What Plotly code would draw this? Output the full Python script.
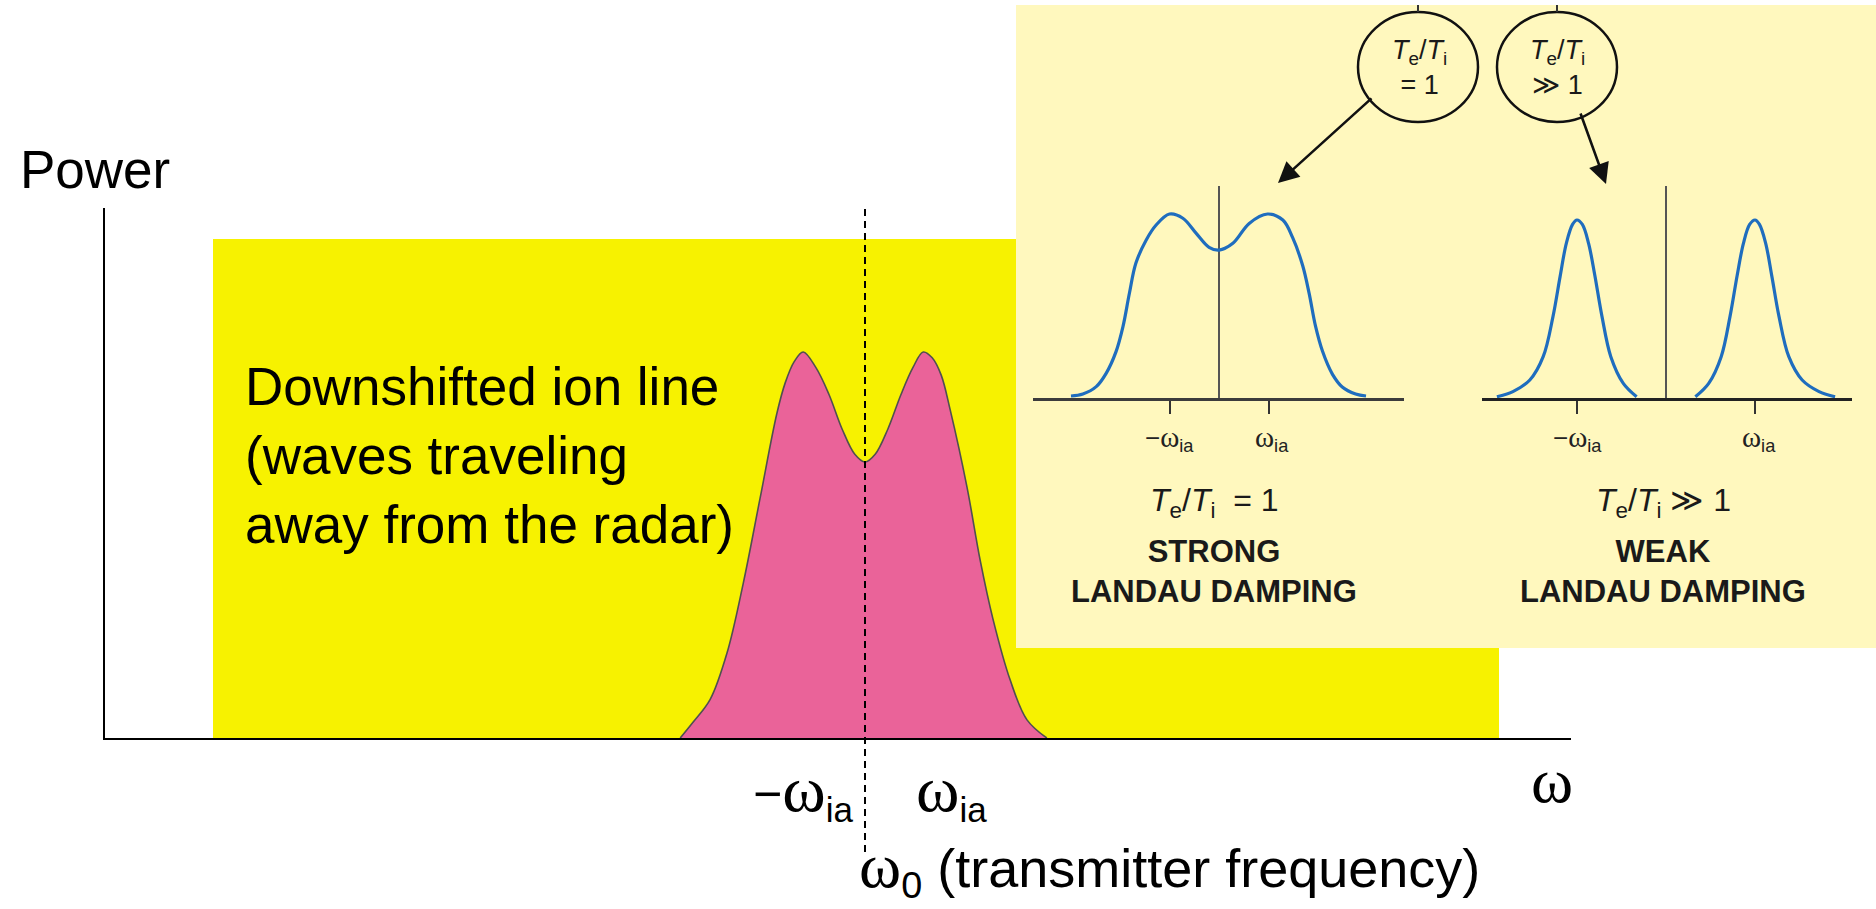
import plotly.graph_objects as go

W, H = 1876, 909

# ---------------- data (ω in units of ω_ia, power normalised to peak) -------------
MAIN_OMEGA = [-3.08, -2.87, -2.58, -2.30, -2.03, -1.75, -1.47, -1.33, -1.18, -1.03,
              -0.82, -0.60, -0.38, -0.17, 0.0, 0.17, 0.38, 0.60, 0.80, 0.97,
              1.12, 1.27, 1.42, 1.70, 1.92, 2.13, 2.42, 2.70, 3.03]
MAIN_POWER = [0.0, 0.04, 0.10, 0.22, 0.40, 0.62, 0.84, 0.92, 0.975, 1.0,
              0.96, 0.89, 0.80, 0.735, 0.715, 0.735, 0.80, 0.89, 0.96, 1.0,
              0.985, 0.94, 0.85, 0.65, 0.46, 0.31, 0.15, 0.047, 0.0]

STRONG_OMEGA = [-2.99, -2.75, -2.48, -2.28, -2.08, -1.94, -1.81, -1.68, -1.47, -1.27,
                -1.00, -0.73, -0.46, -0.20, 0.0, 0.28, 0.61, 0.98, 1.29, 1.49, 1.69,
                1.82, 1.95, 2.09, 2.29, 2.49, 2.76, 2.97]
STRONG_POWER = [0.011, 0.022, 0.062, 0.134, 0.252, 0.388, 0.569, 0.732, 0.859, 0.940,
                1.0, 0.977, 0.895, 0.819, 0.804, 0.841, 0.949, 1.0, 0.967, 0.87, 0.72,
                0.57, 0.39, 0.255, 0.13, 0.06, 0.022, 0.011]

WEAK_LEFT_OMEGA = [-1.90, -1.72, -1.53, -1.38, -1.27, -1.19, -1.12, -1.05, -1.00,
                   -0.94, -0.87, -0.80, -0.72, -0.62, -0.48, -0.33]
WEAK_LEFT_POWER = [0.007, 0.036, 0.101, 0.232, 0.457, 0.682, 0.869, 0.975, 1.0,
                   0.975, 0.869, 0.69, 0.46, 0.232, 0.082, 0.007]
WEAK_RIGHT_OMEGA = [0.33, 0.48, 0.62, 0.72, 0.80, 0.87, 0.94, 1.00, 1.05, 1.12, 1.19,
                    1.27, 1.38, 1.53, 1.72, 1.90]
WEAK_RIGHT_POWER = [0.007, 0.082, 0.232, 0.46, 0.69, 0.869, 0.975, 1.0, 0.975,
                    0.869, 0.682, 0.457, 0.232, 0.101, 0.036, 0.007]

TICK_VALS = [-1, 1]

# ---------------- styling helpers ----------------
SANS = "Liberation Sans, Arial, sans-serif"
SERIF = "Liberation Serif"
YELLOW = "#F7F200"
PALE = "#FFF8BE"
PINK = "#EA6399"
BLUE = "#1F6DBE"


def px(x):
    return x / W


def py(y):
    return 1 - y / H


fig = go.Figure()

fig.add_trace(go.Scatter(x=MAIN_OMEGA, y=MAIN_POWER, mode="lines", line_shape="spline",
                         fill="tozeroy", fillcolor=PINK,
                         line=dict(color="#505050", width=1.6),
                         xaxis="x", yaxis="y", hoverinfo="skip", showlegend=False))
fig.add_trace(go.Scatter(x=STRONG_OMEGA, y=STRONG_POWER, mode="lines", line_shape="spline",
                         line=dict(color=BLUE, width=3.2), xaxis="x2", yaxis="y2",
                         hoverinfo="skip", showlegend=False))
fig.add_trace(go.Scatter(x=WEAK_LEFT_OMEGA, y=WEAK_LEFT_POWER, mode="lines", line_shape="spline",
                         line=dict(color=BLUE, width=3.2), xaxis="x3", yaxis="y3",
                         hoverinfo="skip", showlegend=False))
fig.add_trace(go.Scatter(x=WEAK_RIGHT_OMEGA, y=WEAK_RIGHT_POWER, mode="lines", line_shape="spline",
                         line=dict(color=BLUE, width=3.2), xaxis="x3", yaxis="y3",
                         hoverinfo="skip", showlegend=False))

# ---------------- axes ----------------
main_center, main_unit = 865, 60
main_base, main_peak = 738, 352
fig.update_layout(
    xaxis=dict(domain=[px(105), px(1571)],
               range=[(105 - main_center) / main_unit, (1571 - main_center) / main_unit],
               showline=True, linecolor="black", linewidth=2, showgrid=False,
               zeroline=False, showticklabels=False, ticks=""),
    yaxis=dict(domain=[py(738), py(208)],
               range=[0, (main_base - 208) / (main_base - main_peak)],
               showline=True, linecolor="black", linewidth=2, showgrid=False,
               zeroline=False, showticklabels=False, ticks=""),
    xaxis2=dict(domain=[px(1033), px(1404)], anchor="y2",
                range=[(1033 - 1219) / 49.5, (1404 - 1219) / 49.5],
                showline=True, linecolor="#3c3c3c", linewidth=2.5, showgrid=False,
                zeroline=True, zerolinecolor="#555555", zerolinewidth=1.5,
                tickvals=TICK_VALS, ticks="outside", ticklen=13, tickwidth=2,
                tickcolor="#333333", showticklabels=False),
    yaxis2=dict(domain=[py(398), py(186)], anchor="x2",
                range=[0, (398 - 186) / (398 - 214)], visible=False),
    xaxis3=dict(domain=[px(1482), px(1852)], anchor="y3",
                range=[(1482 - 1666) / 89, (1852 - 1666) / 89],
                showline=True, linecolor="#222222", linewidth=2.5, showgrid=False,
                zeroline=True, zerolinecolor="#555555", zerolinewidth=1.5,
                tickvals=TICK_VALS, ticks="outside", ticklen=13, tickwidth=2,
                tickcolor="#333333", showticklabels=False),
    yaxis3=dict(domain=[py(398), py(186)], anchor="x3",
                range=[0, (398 - 186) / (398 - 220)], visible=False),
)

# ---------------- shapes ----------------
shapes = [
    dict(type="rect", xref="paper", yref="paper", x0=px(213), x1=px(1499),
         y0=py(738), y1=py(239), fillcolor=YELLOW, line=dict(width=0), layer="below"),
    dict(type="rect", xref="paper", yref="paper", x0=px(1016), x1=px(1876),
         y0=py(648), y1=py(5), fillcolor=PALE, line=dict(width=0), layer="below"),
    dict(type="line", xref="x", yref="paper", x0=0, x1=0, y0=py(852), y1=py(207),
         line=dict(color="black", width=2, dash="7px,5px"), layer="above"),
    dict(type="circle", xref="paper", yref="paper", x0=px(1358), x1=px(1478),
         y0=py(122), y1=py(12), line=dict(color="#111111", width=2.5)),
    dict(type="circle", xref="paper", yref="paper", x0=px(1497), x1=px(1617),
         y0=py(122), y1=py(12), line=dict(color="#111111", width=2.5)),
    dict(type="line", xref="paper", yref="paper", x0=px(1418), x1=px(1418),
         y0=py(12), y1=py(5), line=dict(color="#333333", width=2)),
    dict(type="line", xref="paper", yref="paper", x0=px(1557), x1=px(1557),
         y0=py(12), y1=py(5), line=dict(color="#333333", width=2)),
]


def om(size):
    return f"<span style='font-family:Liberation Serif;font-size:{size}px'>ω</span>"


def ann(text, x, y, size, xanchor="center", yanchor="middle", family=SANS,
        color="black", align="center"):
    return dict(text=text, x=px(x), y=py(y), xref="paper", yref="paper",
                xanchor=xanchor, yanchor=yanchor, showarrow=False, align=align,
                font=dict(size=size, family=family, color=color))


annotations = [
    ann("Power", 18, 170, 53, xanchor="left"),
    ann("Downshifted ion line<br>(waves traveling<br>away from the radar)", 243, 455, 53,
        xanchor="left", align="left"),
    ann("−" + om(66) + "<sub>ia</sub>", 803, 790, 50),
    ann(om(66) + "<sub>ia</sub>", 951, 790, 50),
    ann("ω", 1552, 780, 64, family=SERIF),
    ann(om(64) + "<sub>0</sub> (transmitter frequency)", 857, 868, 54, xanchor="left"),
    # bubble texts
    ann("<i>T</i><sub>e</sub>/<i>T</i><sub>i</sub><br>= 1", 1419, 68, 27, color="#1a1a1a"),
    ann("<i>T</i><sub>e</sub>/<i>T</i><sub>i</sub><br>≫ 1", 1557, 68, 27, color="#1a1a1a"),
    # inset tick labels
    ann("−" + om(29) + "<sub>ia</sub>", 1169, 438, 26, color="#222222"),
    ann(om(29) + "<sub>ia</sub>", 1272, 438, 26, color="#222222"),
    ann("−" + om(29) + "<sub>ia</sub>", 1577, 438, 26, color="#222222"),
    ann(om(29) + "<sub>ia</sub>", 1759, 438, 26, color="#222222"),
    # inset captions
    ann("<i>T</i><sub>e</sub>/<i>T</i><sub>i</sub>  = 1", 1214, 503, 32, color="#1a1a1a"),
    ann("<i>T</i><sub>e</sub>/<i>T</i><sub>i</sub> ≫ 1", 1663, 503, 32, color="#1a1a1a"),
    ann("<b>STRONG<br>LANDAU DAMPING</b>", 1214, 571, 31, color="#1a1a1a"),
    ann("<b>WEAK<br>LANDAU DAMPING</b>", 1663, 571, 31, color="#1a1a1a"),
]

for head, tail in [((1278, 183), (1373, 97)), ((1606, 184), (1580, 112))]:
    annotations.append(dict(text="", x=px(head[0]), y=py(head[1]), xref="paper", yref="paper",
                            ax=tail[0] - head[0], ay=tail[1] - head[1], showarrow=True,
                            arrowhead=2, arrowsize=1.6, arrowwidth=2.6, arrowcolor="#111111",
                            standoff=0, startstandoff=0, font=dict(size=12)))

fig.update_layout(
    width=W, height=H, autosize=False,
    margin=dict(l=0, r=0, t=0, b=0),
    paper_bgcolor="white", plot_bgcolor="rgba(0,0,0,0)",
    shapes=shapes, annotations=annotations, showlegend=False,
    font=dict(family=SANS, color="black"),
)

fig.write_html("out.html", config={"displayModeBar": False},
               post_script="document.body.style.margin='0';document.body.style.overflow='hidden';")
